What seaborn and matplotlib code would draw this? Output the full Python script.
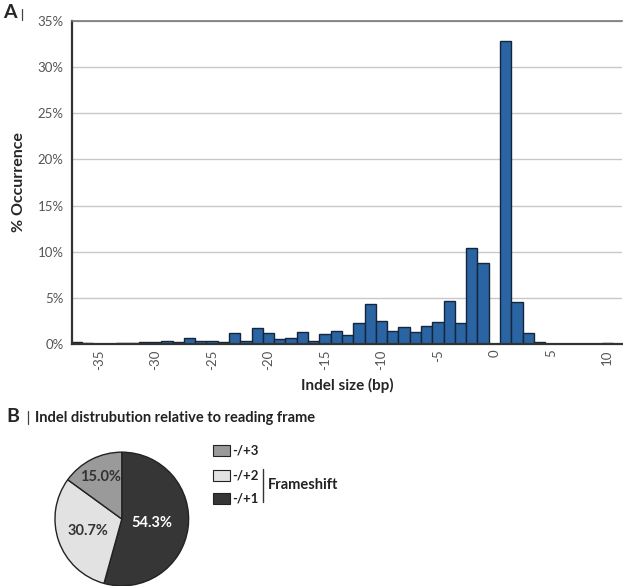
import numpy as np
import pandas as pd
import seaborn as sns
import matplotlib.pyplot as plt
from matplotlib.patches import Rectangle
from matplotlib.lines import Line2D

# Painel A: percentual de ocorrencia por tamanho de indel
indel_size = list(range(-37, 11))
occurrence = [0.2, 0.1, 0.05, 0.05, 0.15, 0.1, 0.2, 0.2, 0.3, 0.2,
              0.65, 0.28, 0.3, 0.22, 1.15, 0.35, 1.77, 1.15, 0.57, 0.68,
              1.26, 0.31, 1.04, 1.37, 0.93, 2.32, 4.33, 2.46, 1.4, 1.84,
              1.26, 1.92, 2.43, 4.62, 2.25, 10.43, 8.82, 0.0, 32.8, 4.6,
              1.16, 0.25, 0.05, 0.05, 0.05, 0.05, 0.03, 0.12]
x_ticks = [-35, -30, -25, -20, -15, -10, -5, 0, 5, 10]
y_ticks = [0, 5, 10, 15, 20, 25, 30, 35]

# Painel B: distribuicao relativa ao quadro de leitura
frame_labels = ['-/+1', '-/+2', '-/+3']
frame_pct = [54.3, 30.7, 15.0]
frame_colors = ['#363636', '#e2e2e2', '#9a9a9a']
legend_order = ['-/+3', '-/+2', '-/+1']

sns.set_theme(style='white')
plt.rcParams['font.family'] = ['Lato', 'DejaVu Sans']

W, H = 623, 586
fig = plt.figure(figsize=(W / 100, H / 100), dpi=100)


def fx(px):
    return px / W


def fy(py):
    return 1 - py / H


# ---- Painel A ----
ax = fig.add_axes([fx(72), fy(344), fx(622) - fx(72), fy(21) - fy(344)])
df = pd.DataFrame({'size': indel_size, 'pct': occurrence})
sns.barplot(data=df, x='size', y='pct', native_scale=True, width=1,
            color='#2a64a3', saturation=1, edgecolor='#15253a',
            linewidth=1.0, errorbar=None, ax=ax)

ax.set_xlim(-37.4, 11.3)
ax.set_ylim(0, 35)
ax.set_yticks(y_ticks)
ax.set_yticklabels([f'{v}%' for v in y_ticks], color='#555555', fontsize=9.5)
ax.set_xticks(x_ticks)
ax.set_xticklabels([str(v) for v in x_ticks], rotation=90, color='#555555',
                   fontsize=9.5)
ax.tick_params(axis='y', length=4, width=0.8, color='#aaaaaa', pad=2)
ax.tick_params(axis='x', length=0, pad=4)
ax.yaxis.grid(True, color='#c8c8c8', linewidth=1.0)
ax.set_axisbelow(True)

for side in ['left', 'bottom']:
    ax.spines[side].set_color('#333333')
    ax.spines[side].set_linewidth(1.6)
ax.spines['top'].set_color('#777777')
ax.spines['top'].set_linewidth(1.2)
ax.spines['right'].set_visible(False)

ax.set_xlabel('Indel size (bp)', fontsize=11, fontweight='bold', labelpad=6)
ax.set_ylabel('% Occurrence', fontsize=11.5, fontweight='bold', labelpad=8)

fig.text(fx(3), fy(13), 'A', fontsize=14, fontweight='bold', va='center')
fig.add_artist(Line2D([fx(22), fx(22)], [fy(9), fy(20)], color='#444444',
                      linewidth=0.9, transform=fig.transFigure))

# ---- Painel B ----
fig.text(fx(6), fy(417), 'B', fontsize=14, fontweight='bold', va='center')
fig.add_artist(Line2D([fx(28), fx(28)], [fy(411), fy(424)], color='#444444',
                      linewidth=0.9, transform=fig.transFigure))
fig.text(fx(35), fy(418), 'Indel distrubution relative to reading frame',
         fontsize=10.5, fontweight='bold', va='center', color='#222222')

r = 67.5
cx, cy = 121.8, 519
pax = fig.add_axes([fx(cx - r), fy(cy + r), fx(2 * r), (2 * r) / H])
wedges, texts, autotexts = pax.pie(
    frame_pct, colors=frame_colors, startangle=90, counterclock=False,
    autopct='%.1f%%', pctdistance=0.55,
    wedgeprops={'edgecolor': '#222222', 'linewidth': 1.0})
pax.set_xlim(-1.01, 1.01)
pax.set_ylim(-1.01, 1.01)
pax.set_aspect('equal')

label_r = [0.46, 0.53, 0.71]
for w, t, rr, col in zip(wedges, autotexts, label_r, frame_colors):
    mid = np.deg2rad((w.theta1 + w.theta2) / 2)
    t.set_position((rr * np.cos(mid), rr * np.sin(mid)))
    t.set_fontsize(10.5)
    t.set_fontweight('bold')
    t.set_color('white' if col == '#363636' else '#333333')

# Legenda manual com colchete "Frameshift"
color_of = dict(zip(frame_labels, frame_colors))
box_tops = [445, 470, 493]
for lab, top in zip(legend_order, box_tops):
    fig.add_artist(Rectangle((fx(213), fy(top + 11)), fx(17), 11 / H,
                             facecolor=color_of[lab], edgecolor='#222222',
                             linewidth=0.8, transform=fig.transFigure))
    fig.text(fx(232), fy(top + 5.5), lab, fontsize=9.5, fontweight='bold',
             va='center', color='#222222')

fig.add_artist(Line2D([fx(263), fx(263)], [fy(469), fy(502)], color='#333333',
                      linewidth=1.0, transform=fig.transFigure))
fig.text(fx(268), fy(485), 'Frameshift', fontsize=10.5, fontweight='bold',
         va='center', color='#222222')

fig.savefig('out.png', dpi=100)
